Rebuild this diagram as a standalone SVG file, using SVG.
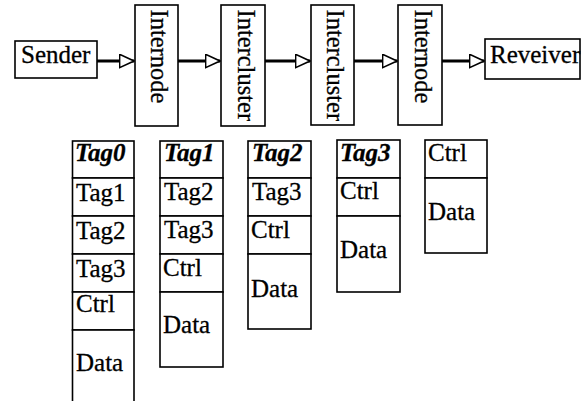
<svg xmlns="http://www.w3.org/2000/svg" width="587" height="401" viewBox="0 0 587 401">
  <style>
    .box { fill: #fff; stroke: #000; stroke-width: 1.6; }
    .link { stroke: #000; stroke-width: 2.8; fill: none; marker-end: url(#open); }
    .t { font-family: "Liberation Serif", "Times New Roman", serif; font-size: 25px; fill: #000; stroke: #000; stroke-width: 0.3; }
    .v { font-family: "Liberation Serif", "Times New Roman", serif; font-size: 24.5px; fill: #000; stroke: #000; stroke-width: 0.3; }
    .hd { font-weight: bold; font-style: italic; }
  </style>
  <defs>
    <marker id="open" markerUnits="userSpaceOnUse" viewBox="0 0 16 15" refX="15.2" refY="7.5" markerWidth="16" markerHeight="15" orient="auto">
      <path d="M0.8,0.8 L15.2,7.5 L0.8,14.2 Z" fill="#fff" stroke="#000" stroke-width="1.6"/>
    </marker>
  </defs>
  <rect width="587" height="401" fill="#fff"/>

  <!-- path of the packet -->
  <g id="sender">
    <rect class="box" x="15" y="41" width="82" height="37"/>
    <text class="t" x="21" y="63">Sender</text>
  </g>
  <g id="internode-1">
    <rect class="box" x="135" y="5" width="43" height="121"/>
    <text class="v" transform="translate(151,9.5) rotate(90)">Internode</text>
  </g>
  <g id="intercluster-1">
    <rect class="box" x="221" y="5" width="44" height="121"/>
    <text class="v" transform="translate(238,9.5) rotate(90)">Intercluster</text>
  </g>
  <g id="intercluster-2">
    <rect class="box" x="311" y="5" width="43" height="120"/>
    <text class="v" transform="translate(327,9.5) rotate(90)">Intercluster</text>
  </g>
  <g id="internode-2">
    <rect class="box" x="398" y="5" width="44" height="120"/>
    <text class="v" transform="translate(415,9.5) rotate(90)">Internode</text>
  </g>
  <g id="receiver">
    <rect class="box" x="485" y="39" width="95" height="40"/>
    <text class="t" x="490" y="63">Reveiver</text>
  </g>

  <g id="connectors">
    <line class="link" x1="97" y1="61" x2="134" y2="61"/>
    <line class="link" x1="178" y1="61" x2="220" y2="61"/>
    <line class="link" x1="265" y1="61" x2="310" y2="61"/>
    <line class="link" x1="354" y1="61" x2="397" y2="61"/>
    <line class="link" x1="442" y1="61" x2="484" y2="61"/>
  </g>

  <!-- header stack carried on each hop -->
  <g id="stack-0">
    <rect class="box" x="72.5" y="141" width="61.5" height="37"/>
    <rect class="box" x="72.5" y="178" width="61.5" height="38"/>
    <rect class="box" x="72.5" y="216" width="61.5" height="38"/>
    <rect class="box" x="72.5" y="254" width="61.5" height="38"/>
    <rect class="box" x="72.5" y="292" width="61.5" height="38"/>
    <rect class="box" x="72.5" y="330" width="61.5" height="80"/>
    <text class="t hd" x="75" y="161">Tag0</text>
    <text class="t" x="76" y="201">Tag1</text>
    <text class="t" x="76" y="239">Tag2</text>
    <text class="t" x="76" y="277">Tag3</text>
    <text class="t" x="76" y="312">Ctrl</text>
    <text class="t" x="76" y="371">Data</text>
  </g>
  <g id="stack-1">
    <rect class="box" x="160" y="141" width="63" height="37"/>
    <rect class="box" x="160" y="178" width="63" height="38"/>
    <rect class="box" x="160" y="216" width="63" height="38"/>
    <rect class="box" x="160" y="254" width="63" height="38"/>
    <rect class="box" x="160" y="292" width="63" height="75"/>
    <text class="t hd" x="164" y="161">Tag1</text>
    <text class="t" x="164" y="200">Tag2</text>
    <text class="t" x="164" y="238">Tag3</text>
    <text class="t" x="163" y="276">Ctrl</text>
    <text class="t" x="163" y="333">Data</text>
  </g>
  <g id="stack-2">
    <rect class="box" x="248" y="141" width="63" height="37"/>
    <rect class="box" x="248" y="178" width="63" height="38"/>
    <rect class="box" x="248" y="216" width="63" height="38"/>
    <rect class="box" x="248" y="254" width="63" height="75"/>
    <text class="t hd" x="252" y="161">Tag2</text>
    <text class="t" x="252" y="200">Tag3</text>
    <text class="t" x="251" y="238">Ctrl</text>
    <text class="t" x="251" y="297">Data</text>
  </g>
  <g id="stack-3">
    <rect class="box" x="337" y="140" width="63" height="38"/>
    <rect class="box" x="337" y="178" width="63" height="38"/>
    <rect class="box" x="337" y="216" width="63" height="76"/>
    <text class="t hd" x="340" y="161">Tag3</text>
    <text class="t" x="340" y="199">Ctrl</text>
    <text class="t" x="340" y="258">Data</text>
  </g>
  <g id="stack-4">
    <rect class="box" x="425" y="140" width="62" height="38"/>
    <rect class="box" x="425" y="178" width="62" height="75"/>
    <text class="t" x="428" y="161">Ctrl</text>
    <text class="t" x="428" y="220">Data</text>
  </g>
</svg>
